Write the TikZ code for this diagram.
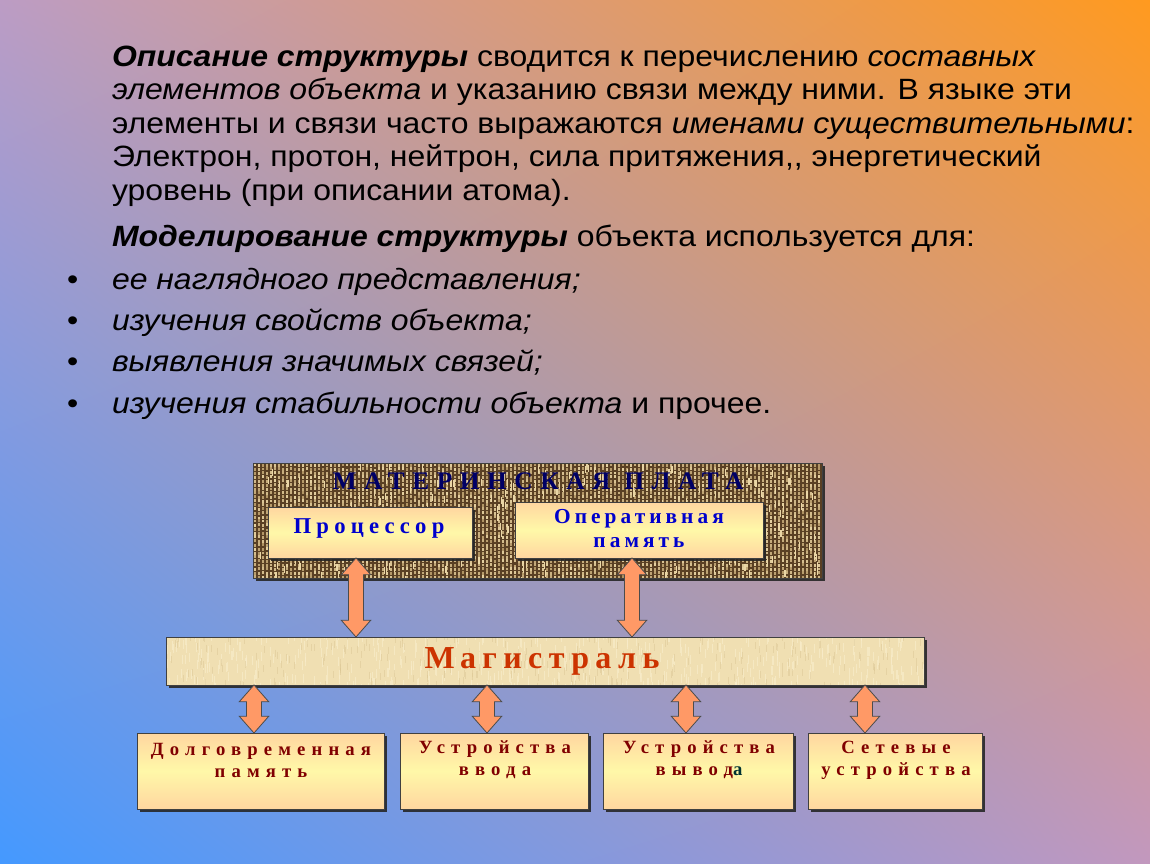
\documentclass[tikz,border=0pt]{standalone}
\usepackage{fontspec}
\setmainfont{Liberation Sans}[FakeStretch=1.09]
\newfontfamily\lsfont[LetterSpace=33]{Liberation Serif}
\newfontfamily\titlefont[LetterSpace=30]{Liberation Serif}
\newfontfamily\procfont[LetterSpace=23]{Liberation Serif}
\newfontfamily\ramfont[LetterSpace=19]{Liberation Serif}
\newfontfamily\magfont[LetterSpace=20]{Liberation Serif}
\usetikzlibrary{fit,shadows,calc,shadings}
\definecolor{bgUL}{HTML}{BC9CC4}
\definecolor{bgUR}{HTML}{FF9A1F}
\definecolor{bgLL}{HTML}{4499FF}
\definecolor{bgLR}{HTML}{C298BE}
\definecolor{ypeach}{HTML}{FFD6A0}
\definecolor{yyel}{HTML}{FFF8A8}
\definecolor{arrfill}{HTML}{FF9966}
\definecolor{burbase}{HTML}{5A4024}
\definecolor{burdark}{HTML}{9C7C4C}
\definecolor{burlight}{HTML}{EAD6A6}
\definecolor{parch}{HTML}{F0DFB2}
\definecolor{parchlight}{HTML}{F8ECCA}
\definecolor{parchdark}{HTML}{DCC795}
\definecolor{navy}{HTML}{000066}
\definecolor{bluet}{HTML}{0000CC}
\definecolor{magt}{HTML}{CC3300}
\definecolor{darkred}{HTML}{800000}
\definecolor{tealblack}{HTML}{003333}
\tikzset{
  every node/.style={inner sep=0pt, outer sep=0pt},
  txt/.style={anchor=base west, font=\fontsize{22}{26}\selectfont, text=black},
  frame/.style={draw=black!75, line width=0.6pt},
  sh/.style={drop shadow={shadow xshift=2.5pt, shadow yshift=-2.5pt, fill=black!85, opacity=0.9}},
  ybox/.style={frame, sh, top color=ypeach, bottom color=ypeach, middle color=yyel},
  arr/.style={draw=black!70, line width=0.6pt, fill=arrfill},
  btxt/.style={align=center, font=\lsfont\bfseries\fontsize{14}{16.5}\selectfont, text=darkred},
}
\newcommand\dblarrow[3]{%
  \draw[arr] let \p1=(#2), \p2=(#3), \p3=(#1,0) in
  (\x3,\y1) -- (\x3+11pt,\y1-12.5pt) -- (\x3+5.6pt,\y1-12.5pt) -- (\x3+5.6pt,\y2+12.5pt)
  -- (\x3+11pt,\y2+12.5pt) -- (\x3,\y2) -- (\x3-11pt,\y2+12.5pt) -- (\x3-5.6pt,\y2+12.5pt)
  -- (\x3-5.6pt,\y1-12.5pt) -- (\x3-11pt,\y1-12.5pt) -- cycle;}
\begin{document}
\begin{tikzpicture}[x=0.75pt,y=-0.75pt]
\useasboundingbox (0,0) rectangle (1150,864);
\shade[upper left=bgUL, upper right=bgUR, lower left=bgLL, lower right=bgLR] (0,0) rectangle (1150,864);

% ---- text block ----
\node[txt] (l1) at (112,66) {\textbf{\textit{Описание структуры}} сводится к перечислению \textit{составных}};
\node[txt] (l2) at (112,99) {\textit{элементов объекта} и указанию связи между ними. В языке эти};
\node[txt] (l3) at (112,133) {элементы и связи часто выражаются \textit{именами существительными}:};
\node[txt] (l4) at (112,166) {Электрон, протон, нейтрон, сила притяжения,\kern0pt, энергетический};
\node[txt] (l5) at (112,200) {уровень (при описании атома).};
\node[txt] (l6) at (112,246) {\textbf{\textit{Моделирование структуры}} объекта используется для:};
\node[txt] (b1) at (67,289) {•};
\node[txt] (b2) at (67,330) {•};
\node[txt] (b3) at (67,371) {•};
\node[txt] (b4) at (67,413) {•};
\node[txt] (l7) at (112,289) {\textit{ее наглядного представления;}};
\node[txt] (l8) at (112,330) {\textit{изучения свойств объекта;}};
\node[txt] (l9) at (112,371) {\textit{выявления значимых связей;}};
\node[txt] (l10) at (112,413) {\textit{изучения стабильности объекта} и прочее.};

% ---- motherboard (burlap) ----
\node[fit={(253,463) (822,578)}, frame, sh, fill=burbase] (mb) {};
\begin{scope}
  \clip (mb.south west) rectangle (mb.north east);
  \pgfmathsetseed{7}
  \foreach \cx in {253,257,...,821}{%
    \foreach \cy in {463,467,...,577}{%
      \pgfmathsetmacro\m{int(25+70*rnd)}%
      \pgfmathsetmacro\dy{1.5*rnd}%
      \fill[burlight!\m!burdark] (\cx+0.6,\cy+\dy) rectangle ++(2.6,2.9);}}
  \foreach \i in {1,...,250}{%
    \pgfmathsetmacro\rx{253+569*rnd}\pgfmathsetmacro\ry{463+115*rnd}%
    \draw[burlight, line width=0.9pt] (\rx,\ry) -- ++(0,7);}
\end{scope}
\draw[frame] (mb.south west) rectangle (mb.north east);
\node[font=\titlefont\bfseries\fontsize{19}{22}\selectfont, text=navy] (mbt) at (538,481) {МАТЕРИНСКАЯ ПЛАТА};

\node[fit={(268,507) (472,558)}, ybox] (proc) {};
\node[font=\procfont\bfseries\fontsize{17}{20}\selectfont, text=bluet] (proct) at (369,528) {Процессор};
\node[fit={(515,502) (763,558)}, ybox] (ram) {};
\node[align=center, font=\ramfont\bfseries\fontsize{16}{17.5}\selectfont, text=bluet] (ramt) at (639,528.5) {Оперативная\\память};

% ---- bus (parchment) ----
\node[fit={(166,637) (924,685)}, frame, sh, fill=parch] (mag) {};
\begin{scope}
  \clip (mag.south west) rectangle (mag.north east);
  \pgfmathsetseed{3}
  \foreach \i in {1,...,500}{%
    \pgfmathsetmacro\rx{166+758*rnd}\pgfmathsetmacro\ry{630+55*rnd}%
    \draw[parchlight, line width=0.8pt, opacity=0.7] (\rx,\ry) -- ++(0,9);}
  \foreach \i in {1,...,300}{%
    \pgfmathsetmacro\rx{166+758*rnd}\pgfmathsetmacro\ry{630+55*rnd}%
    \draw[parchdark, line width=0.6pt, opacity=0.5] (\rx,\ry) -- ++(0,7);}
\end{scope}
\draw[frame] (mag.south west) rectangle (mag.north east);
\node[font=\magfont\bfseries\fontsize{24}{28}\selectfont, text=magt] (magtx) at (542,661) {М\kern4pt агистраль};

% ---- bottom boxes ----
\node[fit={(137,733) (384,809)}, ybox] (d1) {};
\node[fit={(400,733) (588,809)}, ybox] (d2) {};
\node[fit={(603,733) (793,809)}, ybox] (d3) {};
\node[fit={(808,733) (982,809)}, ybox] (d4) {};
\node[btxt] (d1t) at (261,760) {Долговременная\\память};
\node[btxt] (d2t) at (495,760) {Устройства\\ввода};
\node[btxt] (d3t) at (699,760) {Устройства\\вывод\textcolor{tealblack}{а}};
\node[btxt] (d4t) at (896,760) {Сетевые\\устройства};

% ---- arrows ----
\dblarrow{356}{proc.south}{mag.north}
\dblarrow{632}{ram.south}{mag.north}
\dblarrow{254}{mag.south}{d1.north}
\dblarrow{487}{mag.south}{d2.north}
\dblarrow{686}{mag.south}{d3.north}
\dblarrow{865}{mag.south}{d4.north}
\end{tikzpicture}
\end{document}
